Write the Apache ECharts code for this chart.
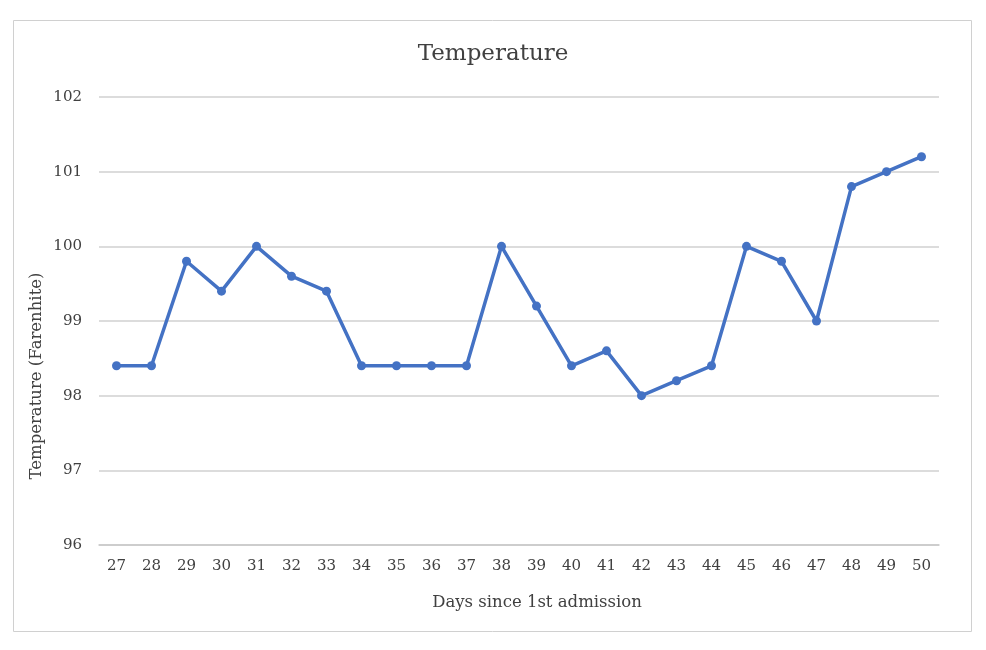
<!DOCTYPE html>
<html><head><meta charset="utf-8">
<script src="https://cdn.jsdelivr.net/npm/echarts@6/dist/echarts.min.js"></script>
<style>html,body{margin:0;padding:0;background:#fff}#c{width:986px;height:650px}</style>
</head><body><div id="c"></div>
<script>
const days = ['27','28','29','30','31','32','33','34','35','36','37','38','39','40','41','42','43','44','45','46','47','48','49','50'];
const temperature = [98.4,98.4,99.8,99.4,100,99.6,99.4,98.4,98.4,98.4,98.4,100,99.2,98.4,98.6,98,98.2,98.4,100,99.8,99,100.8,101,101.2];
const titleText = 'Temperature';
const xName = 'Days since 1st admission';
const yName = 'Temperature (Farenhite)';
const font = '"DejaVu Serif", "Liberation Serif", serif';
const chart = echarts.init(document.getElementById('c'), null, {renderer:'canvas'});
chart.setOption({
  animation:false,
  backgroundColor:'#fff',
  graphic:[
    {type:'rect',shape:{x:13.5,y:20.5,width:958,height:611},style:{fill:'none',stroke:'#d0d0d0',lineWidth:1},silent:true},
    {type:'text',x:537,y:603,style:{text:xName,font:'16.5px '+font,fill:'#404040',textAlign:'center',textVerticalAlign:'middle'}},
    {type:'text',x:37,y:376,rotation:Math.PI/2,style:{text:yName,font:'16.5px '+font,fill:'#404040',textAlign:'center',textVerticalAlign:'middle'}}
  ],
  title:{text:titleText,left:'center',top:38,textStyle:{fontFamily:font,fontSize:23,fontWeight:'normal',color:'#404040'}},
  grid:{left:99,right:47,top:97,bottom:105},
  xAxis:{type:'category',data:days,boundaryGap:true,
    axisLine:{lineStyle:{color:'#c8c8c8',width:1.5}},axisTick:{show:false},
    axisLabel:{fontFamily:font,fontSize:15,color:'#404040',margin:14,interval:0}},
  yAxis:{type:'value',min:96,max:102,interval:1,
    axisLine:{show:false},axisTick:{show:false},
    axisLabel:{fontFamily:font,fontSize:15,color:'#404040',margin:17},
    splitLine:{lineStyle:{color:'#d0d0d0',width:1.5}}},
  series:[{type:'line',data:temperature,symbol:'circle',symbolSize:9,
    lineStyle:{color:'#4472C4',width:3.5},itemStyle:{color:'#4472C4'}}]
});
</script></body></html>
